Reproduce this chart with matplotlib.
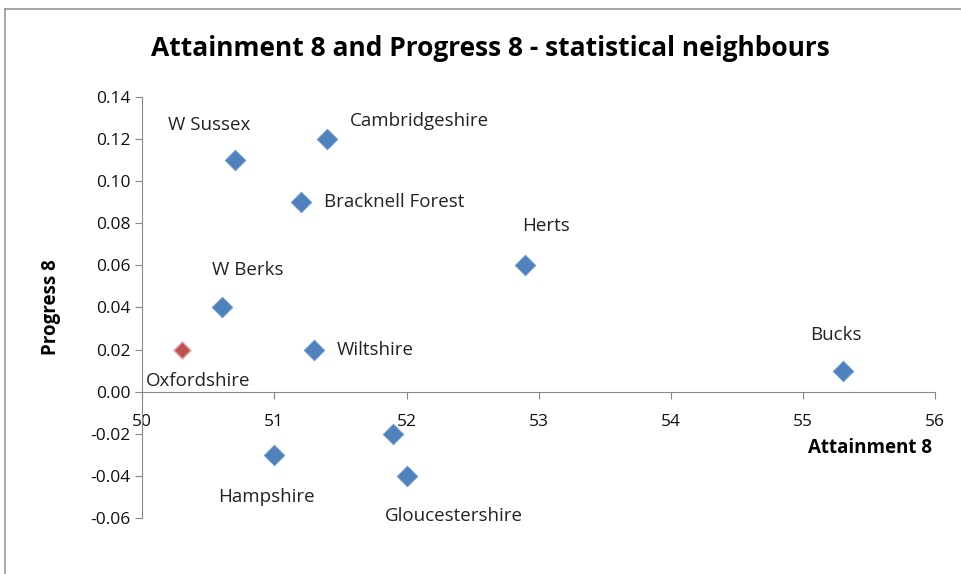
import numpy as np
import matplotlib.pyplot as plt
from matplotlib.lines import Line2D

# data
names = ['W Sussex', 'Cambridgeshire', 'Bracknell Forest', 'Herts', 'W Berks',
         'Oxfordshire', 'Wiltshire', 'Bucks', '', 'Hampshire', 'Gloucestershire']
attainment = [50.7, 51.4, 51.2, 52.9, 50.6, 50.3, 51.3, 55.3, 51.9, 51.0, 52.0]
progress = [0.11, 0.12, 0.09, 0.06, 0.04, 0.02, 0.02, 0.01, -0.02, -0.03, -0.04]
highlight = 'Oxfordshire'

# label offsets in pixels (dx, dy, ha)
offsets = {
    'W Sussex': (-26, 35, 'center'),
    'Cambridgeshire': (23, 18, 'left'),
    'Bracknell Forest': (23, 0, 'left'),
    'Herts': (21, 39, 'center'),
    'W Berks': (26, 37, 'center'),
    'Oxfordshire': (-36, -31, 'left'),
    'Wiltshire': (23, 0, 'left'),
    'Bucks': (-7, 36, 'center'),
    'Hampshire': (-8, -42, 'center'),
    'Gloucestershire': (47, -40, 'center'),
}

plt.rcParams['font.family'] = ['Open Sans', 'DejaVu Sans']
grey = '#888888'

fig = plt.figure(figsize=(9.61, 5.74), dpi=100)
ax = fig.add_axes([0.148, 0.0976, 0.825, 0.7334])

blue = [i for i, n in enumerate(names) if n != highlight]
red = [i for i, n in enumerate(names) if n == highlight]
ax.scatter(np.array(attainment)[blue], np.array(progress)[blue], marker='D', s=110,
           color='#4F81BD', edgecolors='#6E9AD0', linewidths=0.6, zorder=3)
ax.scatter(np.array(attainment)[red], np.array(progress)[red], marker='D', s=75,
           color='#C0504D', edgecolors='#D9A9A8', linewidths=1.0, zorder=3)

for n, x, y in zip(names, attainment, progress):
    if n == '':
        continue
    dx, dy, ha = offsets[n]
    ax.annotate(n, (x, y), xytext=(dx, dy), textcoords='offset pixels',
                ha=ha, va='center', fontsize=13.5, color='#222222')

ax.set_xlim(50, 56)
ax.set_ylim(-0.06, 0.14)
ax.set_xticks(range(50, 57))
ax.set_yticks(np.arange(-0.06, 0.141, 0.02))
ax.set_yticklabels(['%.2f' % v for v in np.arange(-0.06, 0.141, 0.02)])

ax.spines['top'].set_visible(False)
ax.spines['right'].set_visible(False)
ax.spines['bottom'].set_position(('data', 0))
ax.spines['left'].set_color(grey)
ax.spines['bottom'].set_color(grey)
ax.tick_params(direction='out', length=5, color=grey, labelsize=12.5, labelcolor='#111111')
ax.tick_params(axis='x', pad=11)

ax.set_ylabel('Progress 8', fontsize=13.5, fontweight='bold')
ax.yaxis.set_label_coords(-0.102, 0.5)
fig.text(0.905, 0.22, 'Attainment 8', ha='center', va='center', fontsize=13.5, fontweight='bold')
fig.text(0.51, 0.915, 'Attainment 8 and Progress 8 - statistical neighbours',
         ha='center', va='center', fontsize=19, fontweight='bold')

# outer frame of the chart area
fig.add_artist(Line2D([0.005, 1.0], [0.985, 0.985], transform=fig.transFigure, color='#999999', lw=1.2))
fig.add_artist(Line2D([0.005, 0.005], [0.0, 0.985], transform=fig.transFigure, color='#999999', lw=1.2))

fig.savefig('out.png', dpi=100)
